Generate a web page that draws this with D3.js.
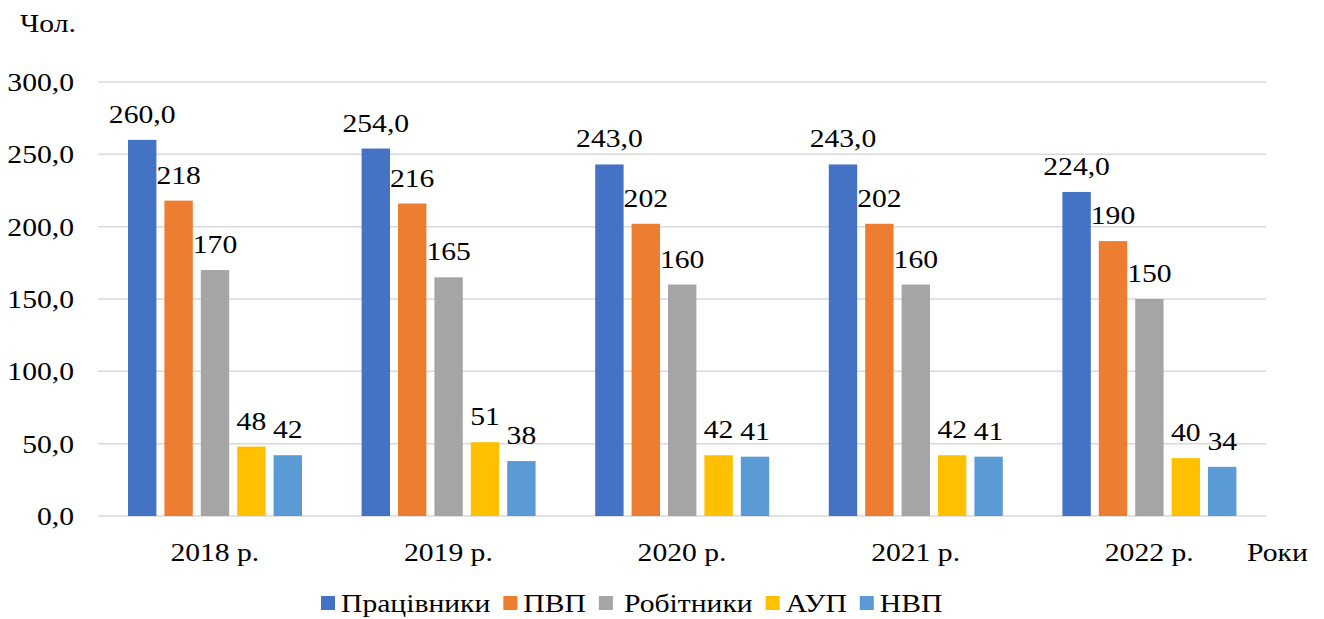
<!DOCTYPE html>
<html>
<head>
<meta charset="utf-8">
<script src="https://cdn.jsdelivr.net/npm/d3@7"></script>
<style>
  html, body { margin: 0; padding: 0; background: #fff; }
  svg { display: block; }
</style>
</head>
<body>
<svg id="chart" width="1324" height="619"></svg>
<script>
// Staff headcount by year and category
const years = ["2018 р.", "2019 р.", "2020 р.", "2021 р.", "2022 р."];
const seriesNames = ["Працівники", "ПВП", "Робітники", "АУП", "НВП"];
const pracivnyky = [260, 254, 243, 243, 224];
const pvp = [218, 216, 202, 202, 190];
const robitnyky = [170, 165, 160, 160, 150];
const aup = [48, 51, 42, 42, 40];
const nvp = [42, 38, 41, 41, 34];
const yTicks = [0, 50, 100, 150, 200, 250, 300];
const colors = ["#4472C4", "#ED7D31", "#A5A5A5", "#FFC000", "#5B9BD5"];

const seriesValues = [pracivnyky, pvp, robitnyky, aup, nvp];
const seriesDecimals = [1, 0, 0, 0, 0];

const svg = d3.select("#chart");
const plot = { left: 98, right: 1266, top: 82, bottom: 516 };
const sx = 1.14; // horizontal stretch of serif text
const FONT = '"Liberation Serif", "Times New Roman", Tinos, serif';

const fmt = (v, d) => v.toFixed(d).replace(".", ",");

const x = d3.scaleBand().domain(years).range([plot.left, plot.right]).padding(0);
const xInner = d3.scaleBand().domain(seriesNames)
  .range([30, x.bandwidth() - 29.6]).paddingInner(0.22).paddingOuter(0);
const y = d3.scaleLinear().domain([0, 300]).range([plot.bottom, plot.top]);

function stretchedText(sel, tx, ty, anchor, size, str) {
  return sel.append("text")
    .attr("transform", `translate(${tx},${ty}) scale(${sx},1)`)
    .attr("text-anchor", anchor)
    .style("font-family", FONT)
    .style("font-size", size + "px")
    .style("fill", "#000")
    .text(str);
}

// Gridlines
svg.append("g").selectAll("line").data(yTicks).join("line")
  .attr("x1", plot.left).attr("x2", plot.right)
  .attr("y1", d => y(d)).attr("y2", d => y(d))
  .attr("stroke", "#d9d9d9").attr("stroke-width", 1.5);

// Y tick labels
const yLab = svg.append("g");
yTicks.forEach(t => stretchedText(yLab, 74, y(t) + 9, "end", 26, fmt(t, 1)));

// Bars
const bars = svg.append("g");
seriesValues.forEach((vals, si) => {
  bars.selectAll(null).data(vals).join("rect")
    .attr("x", (d, i) => x(years[i]) + xInner(seriesNames[si]))
    .attr("y", d => y(d))
    .attr("width", xInner.bandwidth())
    .attr("height", d => y(0) - y(d))
    .attr("fill", colors[si]);
});

// Data labels
const labels = svg.append("g");
seriesValues.forEach((vals, si) => {
  vals.forEach((v, i) => {
    const cx = x(years[i]) + xInner(seriesNames[si]) + xInner.bandwidth() / 2;
    stretchedText(labels, cx, y(v) - 17, "middle", 26, fmt(v, seriesDecimals[si]));
  });
});

// X category labels
const xLab = svg.append("g");
years.forEach(yr => stretchedText(xLab, x(yr) + x.bandwidth() / 2, 561, "middle", 26, yr));

// Axis titles
stretchedText(svg, 1247, 561, "start", 26, "Роки");
stretchedText(svg, 20, 32, "start", 26, "Чол.");

// Legend
const legend = svg.append("g");
let lx = 321;
seriesNames.forEach((name, i) => {
  legend.append("rect").attr("x", lx).attr("y", 596).attr("width", 14).attr("height", 14)
    .attr("fill", colors[i]);
  const gap = name === "Робітники" ? 25 : 20;
  const t = stretchedText(legend, lx + gap, 612, "start", 26, name);
  const w = t.node().getComputedTextLength() * sx;
  lx += gap + w + 13;
});
</script>
</body>
</html>
